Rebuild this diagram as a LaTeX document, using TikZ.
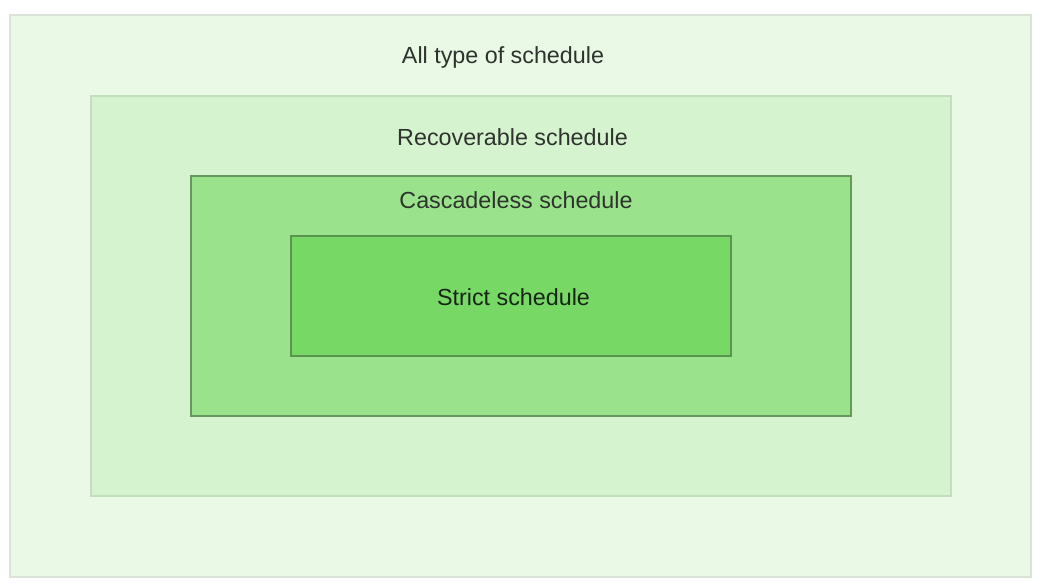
\documentclass[tikz,border=0pt]{standalone}
\usepackage{fontspec}
\setmainfont{Liberation Sans}
\usepackage{tikz}

\definecolor{allfill}{HTML}{EAF8E6}
\definecolor{allline}{HTML}{D9E3D6}
\definecolor{recfill}{HTML}{D6F3D0}
\definecolor{recline}{HTML}{C2DEBB}
\definecolor{casfill}{HTML}{9AE28C}
\definecolor{casline}{HTML}{66975C}
\definecolor{strfill}{HTML}{78D866}
\definecolor{strline}{HTML}{5A9550}
\definecolor{txtgray}{HTML}{2E332D}

\tikzset{
    setbox/.style={rectangle,inner sep=0pt,line width=1.3pt},
    setname/.style={anchor=base,inner sep=0pt,text=txtgray,font=\fontsize{23.3}{28}\selectfont}
}

\begin{document}
\begin{tikzpicture}[x=1pt,y=-1pt]
    \useasboundingbox (0,0) rectangle (1046,588);
    \fill[white] (0,0) rectangle (1046,588);
    \node[setbox,fill=allfill,draw=allline,minimum width=1021pt,minimum height=562pt] (all) at (520.5,296) {};
    \node[setbox,fill=recfill,draw=recline,minimum width=860pt,minimum height=400pt] (rec) at (521,296) {};
    \node[setbox,fill=casfill,draw=casline,minimum width=660pt,minimum height=240pt] (cas) at (521,296) {};
    \node[setbox,fill=strfill,draw=strline,minimum width=440pt,minimum height=120pt] (str) at (511,296) {};
    \node[setname] (alltxt) at (503,64) {All type of schedule};
    \node[setname] (rectxt) at (512.5,145.5) {Recoverable schedule};
    \node[setname] (castxt) at (516,208.5) {Cascadeless schedule};
    \node[setname,text=black!75!strline] (strtxt) at (513.5,305) {Strict schedule};
\end{tikzpicture}
\end{document}
